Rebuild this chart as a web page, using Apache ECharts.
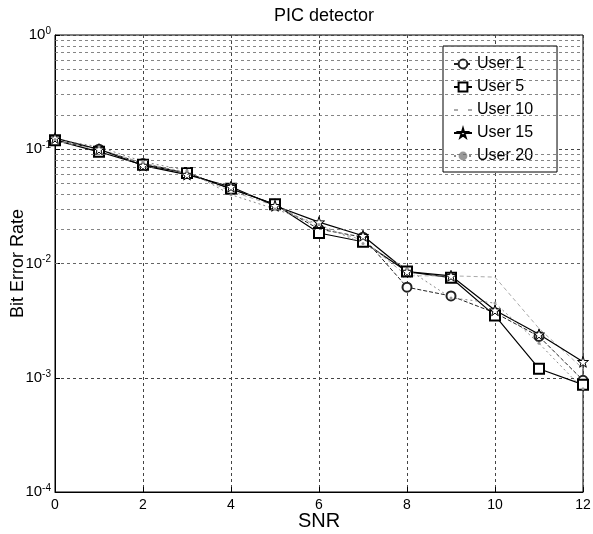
<!DOCTYPE html>
<html><head><meta charset="utf-8">
<script src="https://cdn.jsdelivr.net/npm/echarts@6/dist/echarts.min.js"></script>
<style>html,body{margin:0;padding:0;background:#fff}#c{width:593px;height:534px}</style>
</head><body><div id="c"></div>
<script>
var snr = [0,1,2,3,4,5,6,7,8,9,10,11,12];
var user1  = [0.120,0.100,0.075,0.062,0.045,0.033,0.020,0.0170,0.0062,0.0052,0.0037,0.0023,0.00095];
var user5  = [0.120,0.095,0.073,0.062,0.045,0.033,0.0185,0.0155,0.0085,0.0075,0.0035,0.0012,0.00087];
var user10 = [0.118,0.100,0.076,0.062,0.043,0.032,0.021,0.0160,0.0078,0.0078,0.0076,0.0027,0.0012];
var user15 = [0.125,0.100,0.072,0.060,0.047,0.032,0.023,0.0175,0.0085,0.0078,0.0039,0.0024,0.00138];
var user20 = [0.122,0.105,0.078,0.065,0.040,0.030,0.022,0.0150,0.0090,0.0050,0.0045,0.0020,0.00080];
var seriesNames = ['User 1','User 5','User 10','User 15','User 20'];
var yTicks = [1e-4,1e-3,1e-2,1e-1,1];

function pairs(v){ return snr.map(function(x,i){ return [x, v[i]]; }); }
var minorLines = [];
for (var d = -4; d < 0; d++) { for (var k = 2; k <= 9; k++) { minorLines.push({yAxis: k*Math.pow(10,d)}); } }

var star = 'path://M50,0 L61,35 L98,35 L68,57 L79,91 L50,70 L21,91 L32,57 L2,35 L39,35 Z';
var font = 'Liberation Sans, Arial, sans-serif';
var chart = echarts.init(document.getElementById('c'));
chart.setOption({
  animation:false,
  backgroundColor:'#fff',
  title:{text:'PIC detector', left:319, top:2, textAlign:'center',
    textStyle:{fontFamily:font, fontSize:18, fontWeight:'normal', color:'#000'}},
  grid:{left:55, right:10, top:35, bottom:42, show:true, borderColor:'#000', borderWidth:1,
    containLabel:false, outerBoundsMode:'none'},
  legend:{orient:'vertical', left:443, top:46, width:115, padding:[10,24,8,10], itemGap:7,
    backgroundColor:'#fff', borderColor:'#000', borderWidth:1, itemWidth:18, itemHeight:11,
    textStyle:{fontFamily:font, fontSize:16, color:'#000'},
    data:seriesNames},
  xAxis:{type:'value', min:0, max:12, interval:2,
    axisLine:{lineStyle:{color:'#000'}}, axisTick:{inside:true, length:5, lineStyle:{color:'#000'}},
    axisLabel:{fontFamily:font, fontSize:14, color:'#000', margin:6},
    splitLine:{show:true, lineStyle:{color:'#444', type:[3,3], width:1}},
    name:'SNR', nameLocation:'middle', nameGap:19, nameMoveOverlap:false,
    nameTextStyle:{fontFamily:font, fontSize:20, color:'#000'}},
  yAxis:{type:'log', logBase:10, min:1e-4, max:1,
    axisLine:{lineStyle:{color:'#000'}}, axisTick:{inside:true, length:5, lineStyle:{color:'#000'}},
    axisLabel:{fontFamily:font, color:'#000', margin:4,
      formatter:function(v){ var e=Math.round(Math.log10(v)); return '{b|10}{s|'+e+'}'; },
      rich:{b:{fontSize:15, fontFamily:font, color:'#000'}, s:{fontSize:10, fontFamily:font, color:'#000', verticalAlign:'top', padding:[0,0,8,0]}}},
    splitLine:{show:true, lineStyle:{color:'#444', type:[3,3], width:1}},
    name:'Bit Error Rate', nameLocation:'middle', nameGap:28, nameMoveOverlap:false,
    nameTextStyle:{fontFamily:font, fontSize:18, color:'#000'}},
  series:[
    {name:'User 1', type:'line', data:pairs(user1), symbol:'emptyCircle', symbolSize:9,
      lineStyle:{color:'#222', width:1, type:[4,2]}, itemStyle:{color:'#222', borderWidth:1}},
    {name:'User 5', type:'line', data:pairs(user5), symbol:'emptyRect', symbolSize:10,
      lineStyle:{color:'#000', width:1.2}, itemStyle:{color:'#000', borderWidth:1}},
    {name:'User 10', type:'line', data:pairs(user10), symbol:'none', symbolSize:4,
      lineStyle:{color:'#aaa', width:1, type:[4,3]}, itemStyle:{color:'#fff'}},
    {name:'User 15', type:'line', data:pairs(user15), symbol:star, symbolSize:11,
      lineStyle:{color:'#000', width:1.2}, itemStyle:{color:'#fff', borderColor:'#000', borderWidth:1}},
    {name:'User 20', type:'line', data:pairs(user20), symbol:'circle', symbolSize:3,
      lineStyle:{color:'#888', width:1, type:[2,3]}, itemStyle:{color:'#999'},
      markLine:{silent:true, symbol:'none', label:{show:false},
        lineStyle:{color:'#666', type:[3,3], width:0.8}, data:minorLines}}
  ]
});
</script></body></html>
